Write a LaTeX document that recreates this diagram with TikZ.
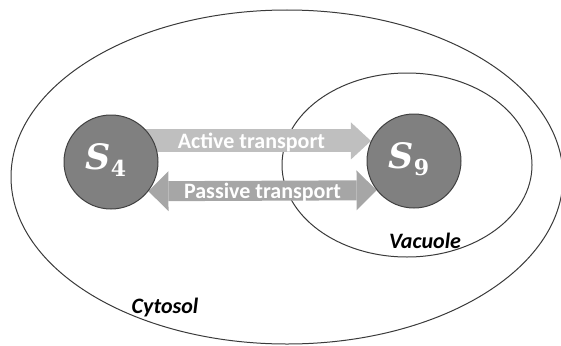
\documentclass[tikz,border=0pt]{standalone}
\usepackage{fontspec}
\setmainfont{Carlito}
\newfontfamily\poolfont{DejaVu Serif}
\usepackage{tikz}
\usetikzlibrary{arrows.meta,backgrounds}
\definecolor{membraneLine}{HTML}{3A3A3A}
\definecolor{poolFill}{HTML}{808080}
\definecolor{poolLine}{HTML}{404040}
\definecolor{activeGray}{HTML}{BFBFBF}
\definecolor{passiveGray}{HTML}{A6A6A6}
\newcommand\poolsym[1]{{\itshape S}\raisebox{-7pt}{\fontsize{22}{26}\selectfont #1}}
\tikzset{
  membrane/.style={draw=membraneLine, line width=1pt},
  place/.style={font=\fontsize{22}{26}\selectfont\bfseries\itshape, text=black, anchor=base},
  poolName/.style={text=white, font=\poolfont\bfseries\fontsize{35}{40}\selectfont, inner sep=0pt},
  pool/.style={circle, minimum size=94pt, inner sep=0pt, fill=poolFill, draw=poolLine,
    line width=1pt, label={[poolName, xshift=-5pt, yshift=2pt]center:\poolsym{#1}}},
  flux/.style={font=\fontsize{22}{26}\selectfont\bfseries, text=white, anchor=base, yshift=-7.5pt},
  active/.style={draw=activeGray, line width=23pt,
    -{Triangle[length=20pt,width=37pt,line width=0pt]}},
  passive/.style={draw=passiveGray, line width=20pt,
    {Triangle[length=20pt,width=40pt,line width=0pt]}-{Triangle[length=20pt,width=40pt,line width=0pt]}}
}
\begin{document}
\begin{tikzpicture}[x=1pt,y=-1pt]
\useasboundingbox (0,0) rectangle (561,345);
% the two pools
\node[pool=4] (s4) at (111,162) {};
\node[pool=9] (s9) at (414,161) {};
\begin{pgfonlayer}{background}
% cell and vacuole membranes
\draw[membrane] (287,177) ellipse [x radius=276pt, y radius=167pt];
\draw[membrane] (407,165) ellipse [x radius=125pt, y radius=92pt];
% transport between the pools
\draw[active] (s4.center |- s9.155) -- (s9.155)
  node[flux, pos=0.54] {Active transport};
\draw[passive] (s4.-38) -- (s9.218)
  node[flux, midway] {Passive transport};
\end{pgfonlayer}
\node[place] (cyt) at (165,313) {Cytosol};
\node[place] (vac) at (425,248) {Vacuole};
\end{tikzpicture}
\end{document}
